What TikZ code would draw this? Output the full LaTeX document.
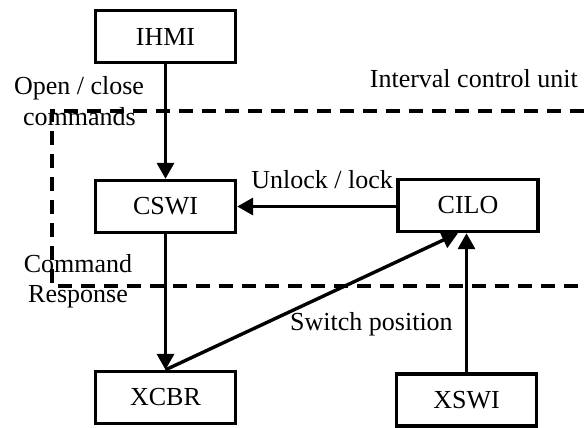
\documentclass[tikz,border=0pt]{standalone}
\usepackage{fontspec}
\setmainfont{Liberation Serif}
\usetikzlibrary{arrows.meta,calc}
\begin{document}
\begin{tikzpicture}[x=1pt,y=-1pt,
  every node/.style={font=\fontsize{26}{30}\selectfont},
  lnode/.style={draw,line width=3.4pt,minimum width=140pt,minimum height=52pt,inner sep=0pt},
  flow/.style={line width=3.4pt,-{Triangle[length=16pt,width=17pt]}},
  border/.style={line width=3.2pt,dash pattern=on 14pt off 9pt},
  lbl/.style={inner sep=0pt}]
\useasboundingbox (0,0) rectangle (584,428);
% logical nodes
\node[lnode] (ihmi) at (165.5,36.5) {IHMI};
\node[lnode] (cswi) at (165.5,206.5) {CSWI};
\node[lnode] (xcbr) at (165.5,397.5) {XCBR};
\node[lnode] (cilo) at (468,205.5) {CILO};
\node[lnode] (xswi) at (466.5,400) {XSWI};
% bay control unit boundary
\draw[border] (584,111) -- (52,111) -- (52,286) -- (584,286);
% signal flows
\draw[flow] (ihmi.south) -- (cswi.north);
\draw[flow] (cilo.west |- cswi.east) -- (cswi.east);
\draw[flow] (cswi.south) -- (xcbr.north);
\coordinate (posin) at ($(cilo.south west)!0.43!(cilo.south east)$);
\draw[flow] (xcbr.north) -- (posin);
\draw[flow] (xswi.north) -- (xswi.north |- cilo.south);
% labels
\node[lbl,anchor=base] (t1) at (79,95) {Open / close};
\node[lbl,anchor=base] (t2) at (79.5,125) {commands};
\node[lbl,anchor=base east] (t3) at (578,88) {Interval control unit};
\node[lbl,anchor=base east] (t4) at (393,188) {Unlock / lock};
\node[lbl,anchor=base] (t5) at (78,272) {Command};
\node[lbl,anchor=base] (t6) at (78,302) {Response};
\node[lbl,anchor=base west] (t7) at (290,330) {Switch position};
\end{tikzpicture}
\end{document}
